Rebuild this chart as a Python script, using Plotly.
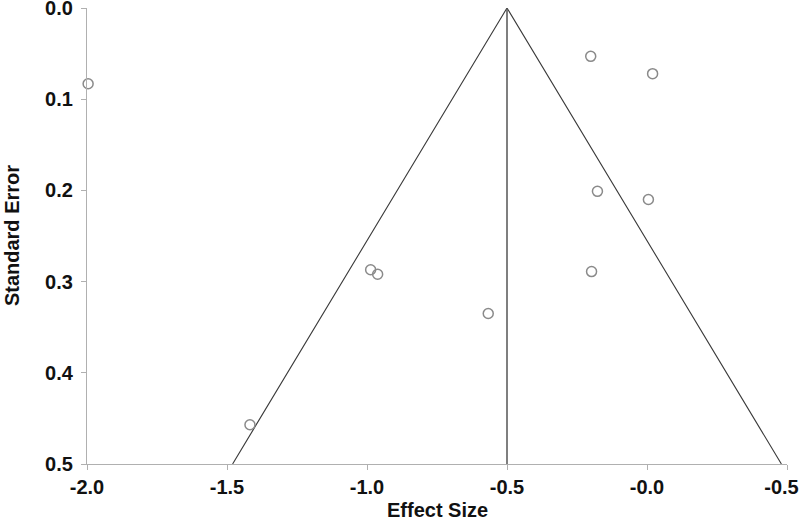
import plotly.graph_objects as go

# Study data
effect_size = [-1.996, -0.201, 0.020, -0.177, 0.005, -0.987, -0.962, -0.198, -0.567, -1.418]
std_error = [0.083, 0.053, 0.072, 0.201, 0.210, 0.287, 0.292, 0.289, 0.335, 0.457]

# Funnel (pooled estimate and 95% limits)
pooled = -0.5
se_max = 0.5
funnel_x = [pooled - 1.96 * se_max, pooled, pooled + 1.96 * se_max]
funnel_y = [se_max, 0.0, se_max]

x_tickvals = [-2.0, -1.5, -1.0, -0.5, 0.0, 0.5]
x_ticktext = ["-2.0", "-1.5", "-1.0", "-0.5", "-0.0", "-0.5\u00a0\u00a0"]
y_tickvals = [0.0, 0.1, 0.2, 0.3, 0.4, 0.5]
y_ticktext = ["0.0", "0.1", "0.2", "0.3", "0.4", "0.5"]

font_family = "Arial, 'Liberation Sans', sans-serif"
tfont = dict(size=20, family=font_family, color="#111111", weight="bold")

fig = go.Figure()
fig.add_trace(go.Scatter(x=funnel_x, y=funnel_y, mode="lines",
                         line=dict(color="#3a3a3a", width=1.1),
                         hoverinfo="skip", showlegend=False))
fig.add_trace(go.Scatter(x=[pooled, pooled], y=[0.0, se_max], mode="lines",
                         line=dict(color="#555555", width=1.5),
                         hoverinfo="skip", showlegend=False))
fig.add_trace(go.Scatter(x=effect_size, y=std_error, mode="markers",
                         marker=dict(symbol="circle-open", size=10,
                                     color="#8a8a8a", line=dict(width=1.5, color="#8a8a8a")),
                         showlegend=False, cliponaxis=False))

fig.update_layout(
    width=800, height=522,
    margin=dict(l=87, r=13, t=8, b=58),
    plot_bgcolor="white", paper_bgcolor="white",
    font=dict(family=font_family, color="#111111"),
    showlegend=False,
    annotations=[
        dict(text="<b>Effect Size</b>", xref="paper", yref="paper", x=0.5, y=-0.1,
             xanchor="center", yanchor="middle", showarrow=False,
             font=dict(size=20, family=font_family, color="#111111")),
        dict(text="<b>Standard Error</b>", xref="paper", yref="paper", x=-0.107, y=0.5,
             xanchor="center", yanchor="middle", showarrow=False, textangle=-90,
             font=dict(size=20, family=font_family, color="#111111")),
    ],
)
fig.update_xaxes(
    range=[-2.0, 0.5], tickvals=x_tickvals, ticktext=x_ticktext,
    showgrid=False, zeroline=False, showline=True, linecolor="#b0b0b0", linewidth=1.2,
    ticks="outside", ticklen=5, tickcolor="#b0b0b0",
    tickfont=tfont, automargin=False, ticklabeloverflow="allow",
)
fig.update_yaxes(
    range=[0.5, 0.0], tickvals=y_tickvals, ticktext=y_ticktext,
    showgrid=False, zeroline=False, showline=True, linecolor="#b0b0b0", linewidth=1.2,
    ticks="outside", ticklen=5, tickcolor="#b0b0b0",
    tickfont=tfont, automargin=False, ticklabeloverflow="allow", ticklabelstandoff=4,
)

fig.write_html("out.html", config={"displayModeBar": False},
               post_script="document.body.style.margin='0';")
